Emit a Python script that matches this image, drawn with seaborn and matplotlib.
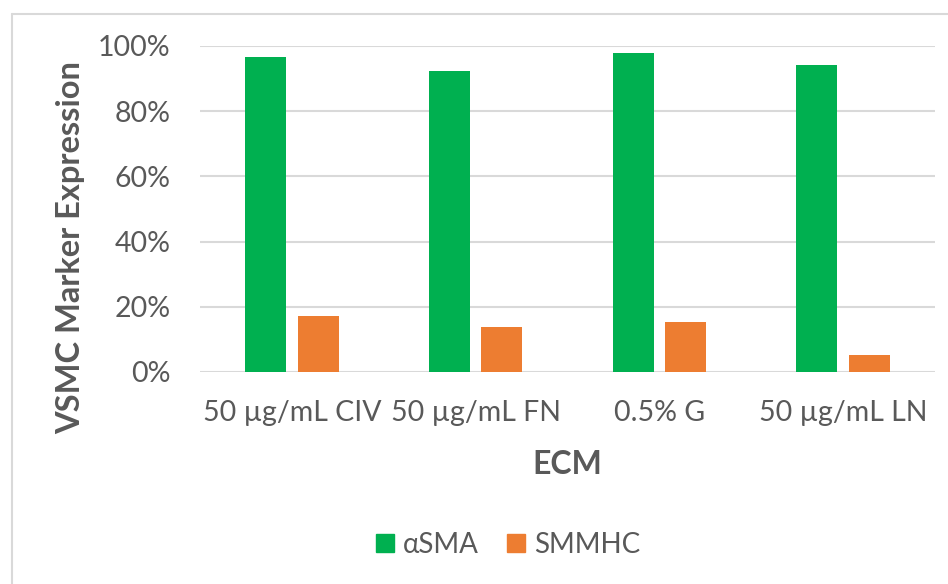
import matplotlib
matplotlib.use("Agg")
import matplotlib.pyplot as plt
import seaborn as sns
import pandas as pd
from matplotlib.ticker import PercentFormatter
from matplotlib.lines import Line2D

categories = ["50 µg/mL CIV", "50 µg/mL FN", "0.5% G", "50 µg/mL LN"]
asma = [96.6, 92.2, 97.9, 94.2]
smmhc = [17.2, 13.8, 15.3, 5.2]
series = ["αSMA", "SMMHC"]
colors = ["#00B050", "#ED7D31"]

df = pd.DataFrame({
    "ECM": categories * 2,
    "value": asma + smmhc,
    "marker": [series[0]] * len(categories) + [series[1]] * len(categories),
})

sns.set_theme(style="white")
plt.rcParams["font.family"] = ["Lato", "DejaVu Sans"]
text_color = "#595959"

fig = plt.figure(figsize=(9.48, 5.84), dpi=100)
ax = fig.add_axes([200/948, 1 - 372/584, 735/948, 326/584])

sns.barplot(data=df, x="ECM", y="value", hue="marker", palette=colors,
            width=0.571, gap=0.22, ax=ax, legend=False, saturation=1,
            edgecolor="none", linewidth=0)

ax.set_ylim(0, 100)
ax.set_yticks([0, 20, 40, 60, 80, 100])
ax.yaxis.set_major_formatter(PercentFormatter(decimals=0))
ax.grid(axis="y", color="#D9D9D9", linewidth=1.5)
ax.set_axisbelow(True)
for s in ax.spines.values():
    s.set_visible(False)
ax.tick_params(axis="both", length=0, labelsize=20.5, colors=text_color)
ax.tick_params(axis="y", pad=21)
ax.tick_params(axis="x", pad=20)
ax.set_xlabel("")
ax.set_ylabel("")
fig.text(567/948, 1 - 464/584, "ECM", fontsize=23, fontweight="bold",
         color=text_color, ha="center", va="center")
fig.text(71/948, 1 - 247/584, "VSMC Marker Expression", fontsize=23.5,
         fontweight="bold", color=text_color, ha="center", va="center", rotation=90)

handles = [Line2D([0], [0], marker="s", linestyle="none", markersize=13,
                  markerfacecolor=c, markeredgecolor=c) for c in colors]
fig.legend(handles, series, loc="center", bbox_to_anchor=(508/948, 1 - 545/584),
           ncol=2, frameon=False, fontsize=20, labelcolor=text_color,
           handlelength=0.7, handletextpad=0.3, columnspacing=1.0)

# outer chart border (top and left visible)
fig.add_artist(Line2D([12/948, 1.0], [1 - 14/584, 1 - 14/584], transform=fig.transFigure,
                      color="#D9D9D9", linewidth=1.5))
fig.add_artist(Line2D([12/948, 12/948], [0, 1 - 14/584], transform=fig.transFigure,
                      color="#D9D9D9", linewidth=1.5))

fig.savefig("out.png", dpi=100, facecolor="white")
